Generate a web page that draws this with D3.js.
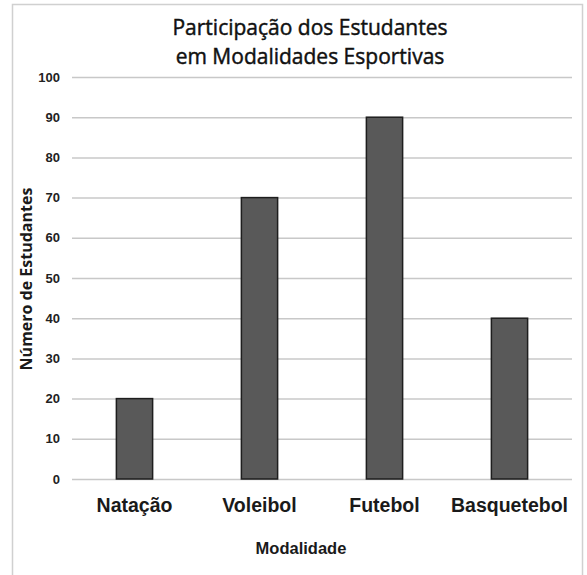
<!DOCTYPE html>
<html><head><meta charset="utf-8">
<script src="https://cdn.jsdelivr.net/npm/d3@7"></script>
<style>body{margin:0;background:#fff}</style>
</head><body>
<script>
const categories = ["Natação", "Voleibol", "Futebol", "Basquetebol"];
const values = [20, 70, 90, 40];
const yTicks = [0, 10, 20, 30, 40, 50, 60, 70, 80, 90, 100];
const titleLines = ["Participação dos Estudantes", "em Modalidades Esportivas"];
const xTitle = "Modalidade";
const yTitle = "Número de Estudantes";

const W = 587, H = 575;
const svg = d3.select("body").append("svg").attr("width", W).attr("height", H);
svg.append("rect").attr("x", 12.5).attr("y", 4.5).attr("width", 570).attr("height", 580)
  .attr("fill", "#fff").attr("stroke", "#d0d0d0").attr("stroke-width", 1.5);

const m = {left: 72, right: 572, top: 77, bottom: 479};
const x = d3.scaleBand().domain(categories).range([m.left, m.right]).paddingInner(0.71).paddingOuter(0.355);
const y = d3.scaleLinear().domain([0, 100]).range([m.bottom, m.top]);

const yAxis = svg.append("g").attr("transform", `translate(${m.left},0)`)
  .call(d3.axisLeft(y).tickValues(yTicks).tickSize(-(m.right - m.left)).tickPadding(12));
yAxis.select(".domain").remove();
yAxis.selectAll(".tick line").attr("stroke", "#c8c8c8").attr("stroke-width", 1.5);
yAxis.selectAll(".tick text").attr("font-family", "Liberation Sans, Arial, sans-serif")
  .attr("font-weight", "bold").attr("font-size", 13).attr("fill", "#222");

svg.append("g").selectAll("rect").data(values).join("rect")
  .attr("x", (d, i) => x(categories[i]))
  .attr("y", d => y(d))
  .attr("width", x.bandwidth())
  .attr("height", d => y(0) - y(d))
  .attr("fill", "#595959").attr("stroke", "#1e1e1e").attr("stroke-width", 1.5);

const xAxis = svg.append("g").attr("transform", `translate(0,${m.bottom})`)
  .call(d3.axisBottom(x).tickSize(0).tickPadding(19));
xAxis.select(".domain").remove();
xAxis.selectAll(".tick text").attr("font-family", "Liberation Sans, Arial, sans-serif")
  .attr("font-weight", "bold").attr("font-size", 19.5).attr("fill", "#1a1a1a");

svg.append("text").attr("x", 301).attr("y", 554).attr("text-anchor", "middle")
  .attr("font-family", "Liberation Sans, Arial, sans-serif").attr("font-weight", "bold")
  .attr("font-size", 16.5).attr("fill", "#1a1a1a").text(xTitle);

svg.append("text").attr("transform", `translate(32,${279}) rotate(-90)`)
  .attr("text-anchor", "middle")
  .attr("font-family", "Open Sans, Noto Sans, sans-serif").attr("font-weight", "bold")
  .attr("font-size", 16).attr("fill", "#1a1a1a").text(yTitle);

svg.append("g").selectAll("text").data(titleLines).join("text")
  .attr("x", 310).attr("y", (d, i) => 35 + i * 29).attr("text-anchor", "middle")
  .attr("font-family", "Open Sans, Noto Sans, sans-serif").attr("font-size", 21)
  .attr("fill", "#111").attr("stroke", "#111").attr("stroke-width", 0.45).text(d => d);
</script>
</body></html>
